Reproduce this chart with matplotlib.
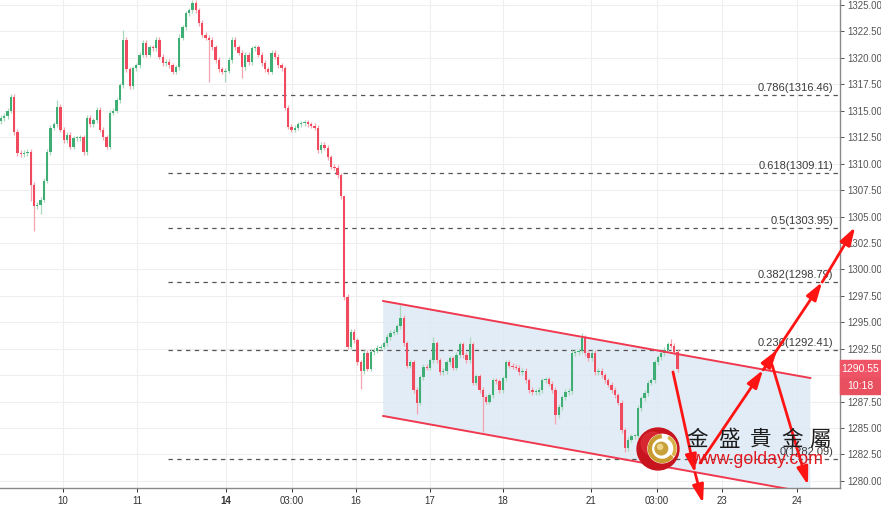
import matplotlib
matplotlib.use('Agg')
import matplotlib.pyplot as plt
import numpy as np
from matplotlib.patches import Polygon, Rectangle, Circle, Wedge

# ---------------- data ----------------
closes = [
    1314.3, 1314.5, 1315.0, 1316.3, 1313.0, 1311.0, 1310.9, 1311.0, 1311.1, 1308.0,
    1306.0, 1306.1, 1306.6, 1308.4, 1311.1, 1313.4, 1313.7, 1315.4, 1313.2, 1312.2,
    1312.7, 1311.6, 1312.4, 1312.4, 1312.5, 1311.1, 1314.3, 1313.7, 1314.1, 1315.1,
    1313.2, 1312.5, 1311.6, 1314.8, 1315.0, 1316.0, 1317.4, 1321.7, 1318.9, 1317.3,
    1319.0, 1319.3, 1320.3, 1321.4, 1320.3, 1321.0, 1320.9, 1321.7, 1320.1, 1319.5,
    1319.6, 1319.3, 1318.7, 1319.1, 1321.9, 1322.9, 1324.2, 1324.5, 1325.2, 1324.5,
    1323.3, 1322.2, 1321.9, 1321.7, 1321.0, 1319.8, 1318.9, 1318.7, 1318.8, 1319.8,
    1321.7, 1321.0, 1320.5, 1319.1, 1320.3, 1319.6, 1320.9, 1321.0, 1320.3, 1319.5,
    1318.9, 1318.7, 1320.5, 1320.1, 1319.3, 1319.0, 1315.3, 1313.5, 1313.2, 1313.4,
    1313.7, 1313.8, 1313.9, 1313.7, 1313.6, 1313.4, 1311.3, 1311.8, 1311.5, 1310.6,
    1309.7, 1309.6, 1308.9, 1306.9, 1297.4, 1292.7, 1294.1, 1293.3, 1291.2, 1290.4,
    1292.1, 1290.6, 1292.2, 1292.3, 1292.6, 1292.7, 1293.0, 1293.6, 1294.0, 1294.1,
    1294.6, 1295.4, 1293.0, 1290.9, 1291.2, 1288.6, 1287.4, 1289.8, 1290.8, 1290.7,
    1291.4, 1293.0, 1291.4, 1290.3, 1290.4, 1291.2, 1291.6, 1290.7, 1291.9, 1292.9,
    1291.9, 1291.4, 1292.9, 1289.3, 1289.9, 1288.6, 1287.9, 1287.5, 1288.1, 1289.5,
    1289.4, 1288.6, 1289.7, 1291.2, 1290.9, 1290.8, 1290.7, 1290.3, 1290.4, 1289.5,
    1288.6, 1288.4, 1288.4, 1288.6, 1289.5, 1289.6, 1289.2, 1288.6, 1286.2, 1287.0,
    1287.9, 1288.4, 1288.5, 1292.1, 1292.2, 1292.3, 1293.5, 1292.1, 1291.6, 1292.1,
    1290.3, 1290.4, 1290.0, 1289.5, 1289.1, 1288.6, 1288.1, 1287.4, 1284.8, 1283.1,
    1283.9, 1284.2, 1284.2, 1286.9, 1287.8, 1288.3, 1289.3, 1289.5, 1291.2, 1291.7,
    1292.1, 1292.4, 1292.9, 1292.8, 1292.2, 1290.55,
]
first_open = 1314.0
high_marks = {3: 1316.6, 17: 1316.0, 37: 1322.6, 54: 1322.3, 58: 1325.5,
              104: 1298.0, 121: 1296.6, 131: 1293.6, 142: 1293.6, 176: 1294.0, 203: 1293.4}
low_marks = {9: 1306.5, 10: 1303.6, 12: 1305.2, 63: 1317.7, 68: 1317.7, 73: 1318.1,
             109: 1288.7, 126: 1286.3, 146: 1284.6, 168: 1285.4, 189: 1282.7}
default_wick = 0.25

fib_ratios = ['0.786', '0.618', '0.5', '0.382', '0.236', '0']
fib_prices = [1316.46, 1309.11, 1303.95, 1298.79, 1292.41, 1282.09]
fib_start, fib_end, fib_label_x = 50.6, 253.6, 252.1

tick_labels = ['10', '11', '14', '03:00', '16', '17', '18', '21', '03:00', '23', '24']
tick_pos = [18.8, 41.2, 68.2, 88.2, 107.6, 130.0, 152.1, 178.8, 198.8, 218.5, 241.2]
price_ticks = np.arange(1280, 1325.01, 2.5)

last_price = 1290.55
countdown = '10:18'

channel_x = [115.8, 245.2]
channel_upper = [1297.01, 1289.73]
channel_lower = [1286.14, 1278.86]

# hand-drawn forecast arrows (start, end) in data coordinates
arrows = [
    ((203.6, 1290.3), (210.3, 1280.75)),
    ((210.3, 1280.75), (212.7, 1277.9)),
    ((211.8, 1281.7), (230.9, 1290.5)),
    ((230.9, 1290.5), (235.2, 1292.4)),
    ((231.5, 1290.7), (248.8, 1298.8)),
    ((248.8, 1298.8), (258.8, 1304.0)),
    ((233.6, 1291.0), (244.5, 1279.6)),
]

# ---------------- figure ----------------
W, H = 881, 505
fig = plt.figure(figsize=(W / 100, H / 100), dpi=100)
ax = fig.add_axes([0, 17 / H, 840 / W, 488 / H])
ax.set_xlim(-0.3, 254.2)
ax.set_ylim(1279.33, 1325.47)

UP, DOWN = '#3fae74', '#ef4a5e'
UP_W, DOWN_W = '#a9d8bd', '#f5a3ae'

n = len(closes)
opens = [first_open] + closes[:-1]
for i in range(n):
    o, c = opens[i], closes[i]
    up = c >= o
    hi = high_marks.get(i, max(o, c) + default_wick)
    lo = low_marks.get(i, min(o, c) - default_wick)
    ax.vlines(i, lo, hi, color=UP_W if up else DOWN_W, lw=0.9, zorder=3)
    h = abs(c - o)
    if h < 0.1:
        h = 0.1
    ax.bar(i, h, bottom=min(o, c), width=0.7, color=UP if up else DOWN,
           linewidth=0, zorder=4)

# channel
poly = Polygon([(channel_x[0], channel_upper[0]), (channel_x[1], channel_upper[1]),
                (channel_x[1], channel_lower[1]), (channel_x[0], channel_lower[0])],
               closed=True, facecolor='#dde9f5', edgecolor='none', alpha=0.85, zorder=1)
ax.add_patch(poly)
ax.plot(channel_x, channel_upper, color='#f0384f', lw=1.4, zorder=5)
ax.plot(channel_x, channel_lower, color='#f0384f', lw=1.4, zorder=5)

# fibonacci
for r, p in zip(fib_ratios, fib_prices):
    ax.plot([fib_start, fib_end], [p, p], color='#555555', lw=0.9,
            dashes=(3.5, 3.5), zorder=2)
    ax.annotate(f'{r}({p:.2f})', (fib_label_x, p), xytext=(0, 1.5),
                textcoords='offset points', ha='right', va='bottom',
                fontsize=8, family='Liberation Sans', color='#3a3a3a', zorder=6)

# axes styling
ax.set_xticks(tick_pos)
ax.set_xticklabels(tick_labels)
for lab in ax.get_xticklabels():
    if lab.get_text() == '14':
        lab.set_fontweight('bold')
ax.set_yticks(price_ticks)
# the 1290.00 label sits under the last-price marker, as in the source chart
ax.set_yticklabels(['' if abs(v - 1290.0) < 1e-6 else f'{v:.2f}' for v in price_ticks])
ax.yaxis.tick_right()
ax.tick_params(axis='x', labelsize=7, colors='#333333', length=3, pad=3, width=0.7)
ax.tick_params(axis='y', labelsize=7, colors='#555555', length=3, pad=2, width=0.7)
for lab in ax.get_xticklabels() + ax.get_yticklabels():
    lab.set_family('Liberation Sans')
ax.grid(True, color='#efefef', lw=0.8, zorder=0)
ax.set_axisbelow(True)
for s in ['top', 'left']:
    ax.spines[s].set_visible(False)
for s in ['right', 'bottom']:
    ax.spines[s].set_color('#8a8a8a')
    ax.spines[s].set_linewidth(1.0)

# arrows
for (s, e) in arrows:
    ax.annotate('', xy=e, xytext=s, xycoords='data', textcoords='data',
                annotation_clip=False,
                arrowprops=dict(arrowstyle='-|>,head_length=0.9,head_width=0.28',
                                color='#ff1414', lw=2.0, mutation_scale=12,
                                shrinkA=0, shrinkB=0), zorder=8)

# price label boxes at right
fig.patches.append(Rectangle((840 / W, 1 - 378 / H), 41 / W, 18 / H,
                             transform=fig.transFigure, color='#ef5366', zorder=5))
fig.patches.append(Rectangle((840 / W, 1 - 394 / H), 41 / W, 16 / H,
                             transform=fig.transFigure, color='#e9505f', zorder=5))
fig.text(860 / W, 1 - 369 / H, f'{last_price:.2f}', color='white', fontsize=7.5,
         family='Liberation Sans', ha='center', va='center', zorder=6)
fig.text(860 / W, 1 - 386 / H, countdown, color='white', fontsize=7.5,
         family='Liberation Sans', ha='center', va='center', zorder=6)

# watermark logo
lax = fig.add_axes([636 / W, 1 - 471 / H, 44 / W, 44 / H])
lax.set_xlim(-1.05, 1.05)
lax.set_ylim(-1.05, 1.05)
lax.set_aspect('equal')
lax.axis('off')
lax.add_patch(Circle((0, 0), 1.0, color='#c8141e'))
lax.add_patch(Circle((-0.25, 0.25), 0.55, color='#e0343c', alpha=0.6))
lax.add_patch(Circle((0.2, 0.02), 0.68, color='white'))
lax.add_patch(Wedge((0.2, 0.02), 0.66, 95, 320, width=0.14, color='#c99a2e'))
lax.add_patch(Wedge((0.2, 0.02), 0.66, 330, 60, width=0.10, color='#d9b24a'))
lax.add_patch(Circle((0.16, 0.02), 0.3, color='#c9a13a'))
lax.add_patch(Circle((0.1, 0.1), 0.12, color='#ecd58a'))

wm_chars = ['金', '盛', '貴', '金', '屬']
wm_x = [697, 729, 761, 792, 820]
for ch, xp in zip(wm_chars, wm_x):
    fig.text(xp / W, 1 - 440 / H, ch, fontsize=15.5, family='Noto Sans CJK TC',
             color='#1c1c1c', ha='center', va='center', zorder=9)
fig.text(757 / W, 1 - 459 / H, 'www.golday.com', fontsize=12.8,
         family='Liberation Sans', color='#e3161d', ha='center', va='center', zorder=9)

fig.savefig('out.png', dpi=100)
